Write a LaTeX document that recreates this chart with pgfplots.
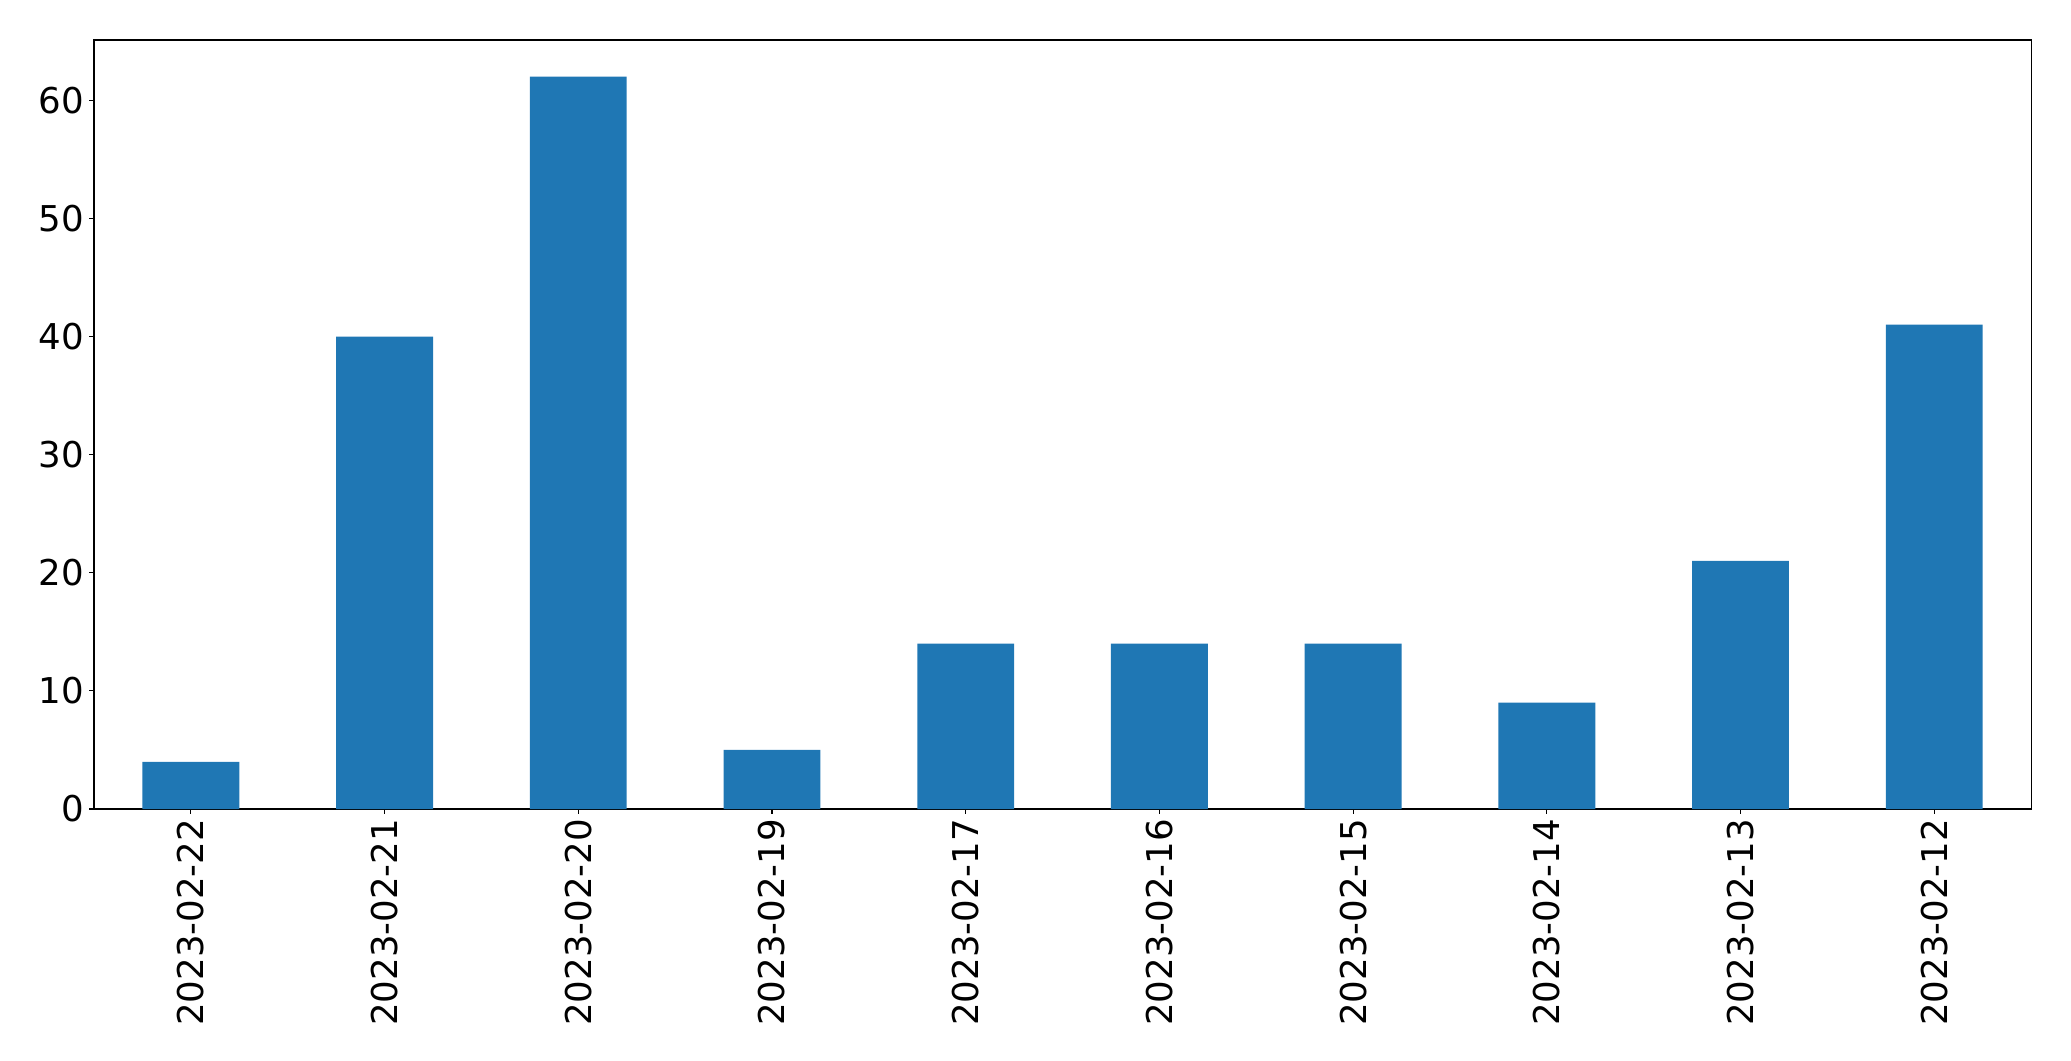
\documentclass[border=0pt]{standalone}
\usepackage{pgfplots}
\pgfplotsset{compat=1.18}
\usepackage{fontspec}
\setmainfont{DejaVu Sans}
\definecolor{mplblue}{HTML}{1F77B4}
\begin{document}
\begin{tikzpicture}
\path[use as bounding box] (-67.7pt,-181.4pt) rectangle (1423.4pt,582.5pt);
\begin{axis}[
  at={(0,0)}, anchor=south west,
  scale only axis,
  width=1394.6pt, height=553.7pt,
  xmin=-0.5, xmax=9.5,
  ymin=0, ymax=65.1,
  xtick=data,
  xticklabels={2023-02-22,2023-02-21,2023-02-20,2023-02-19,2023-02-17,2023-02-16,2023-02-15,2023-02-14,2023-02-13,2023-02-12},
  x tick label style={rotate=90, anchor=east},
  ytick={0,10,20,30,40,50,60},
  tick pos=left,
  tick align=outside,
  major tick length=3.5pt,
  tick style={black, line width=0.8pt},
  axis line style={line width=0.8pt},
  ticklabel style={font=\fontsize{25.6}{30}\selectfont},
  /pgf/number format/assume math mode=true,
  every tick label/.append style={inner sep=3.5pt},
]
\addplot[ybar, bar width=0.5, fill=mplblue, draw=none] coordinates {
(0,4) (1,40) (2,62) (3,5) (4,14) (5,14) (6,14) (7,9) (8,21) (9,41)
};
\end{axis}
\end{tikzpicture}
\end{document}
